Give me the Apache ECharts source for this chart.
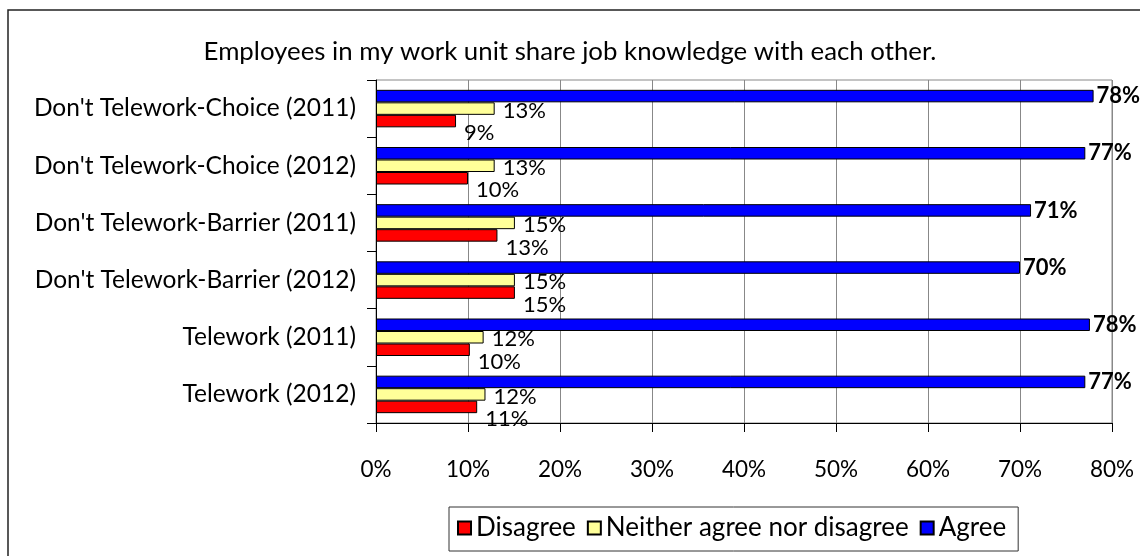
<!DOCTYPE html>
<html>
<head>
<meta charset="utf-8">
<script src="https://cdn.jsdelivr.net/npm/echarts@6/dist/echarts.min.js"></script>
<style>
  html, body { margin: 0; padding: 0; background: #fff; }
  #chart { width: 1140px; height: 556px; }
</style>
</head>
<body>
<div id="chart"></div>
<script>
// Survey item and groups, top to bottom
const chartTitle = 'Employees in my work unit share job knowledge with each other.';
const categories = [
  "Don't Telework-Choice (2011)",
  "Don't Telework-Choice (2012)",
  "Don't Telework-Barrier (2011)",
  "Don't Telework-Barrier (2012)",
  'Telework (2011)',
  'Telework (2012)'
];

// Percent of respondents per answer
const agree    = [78.0, 77.1, 71.2, 70.0, 77.6, 77.1];
const neither  = [12.9, 12.9, 15.1, 15.1, 11.7, 11.9];
const disagree = [8.7, 10.0, 13.2, 15.1, 10.2, 11.0];

const xTicks = [0, 10, 20, 30, 40, 50, 60, 70, 80];

const FONT = 'Lato, "Open Sans", sans-serif';
const pct = p => Math.round(p.value) + '%';

const chart = echarts.init(document.getElementById('chart'), null, { renderer: 'canvas' });

const barBase = {
  type: 'bar',
  barWidth: 12.5,
  barGap: '0%',
  animation: false
};

chart.setOption({
  backgroundColor: '#fff',
  textStyle: { fontFamily: FONT },
  title: {
    text: chartTitle,
    left: 'center',
    top: 34,
    textStyle: { fontFamily: FONT, fontSize: 25.8, fontWeight: 'normal', color: '#000' }
  },
  graphic: [{
    type: 'rect',
    shape: { x: 8, y: 10, width: 1200, height: 600 },
    style: { fill: null, stroke: '#222', lineWidth: 1.5 },
    silent: true
  }],
  legend: {
    data: ['Disagree', 'Neither agree nor disagree', 'Agree'],
    left: 449,
    top: 507,
    padding: [8, 12, 10, 8],
    itemGap: 11,
    itemWidth: 13,
    itemHeight: 13,
    icon: 'rect',
    borderColor: '#333',
    borderWidth: 1,
    textStyle: { fontFamily: FONT, fontSize: 26, color: '#000' }
  },
  grid: {
    left: 376, right: 28, top: 80, bottom: 133,
    show: true, borderColor: '#888', borderWidth: 1,
    containLabel: false
  },
  xAxis: {
    type: 'value',
    min: 0, max: 80, interval: 10,
    axisLine: { show: true, lineStyle: { color: '#000', width: 1 } },
    axisTick: { show: true, length: 9, lineStyle: { color: '#000' } },
    axisLabel: {
      margin: 35,
      fontFamily: FONT, fontSize: 22.5, color: '#000',
      formatter: v => xTicks.includes(v) ? v + '%' : ''
    },
    splitLine: { show: true, lineStyle: { color: '#888', width: 1 } }
  },
  yAxis: {
    type: 'category',
    data: categories,
    inverse: true,
    axisLine: { show: true, lineStyle: { color: '#000', width: 1 } },
    axisTick: { show: true, length: 9, inside: false, lineStyle: { color: '#000' } },
    axisLabel: { margin: 20, fontFamily: FONT, fontSize: 24.5, color: '#000' },
    splitLine: { show: false }
  },
  series: [
    Object.assign({}, barBase, {
      name: 'Agree',
      data: agree,
      itemStyle: { color: '#0000FF', borderColor: '#000', borderWidth: 1 },
      label: {
        show: true, position: 'right', distance: 3,
        formatter: pct,
        fontFamily: FONT, fontSize: 22, fontWeight: 'bold', color: '#000'
      }
    }),
    Object.assign({}, barBase, {
      name: 'Neither agree nor disagree',
      data: neither,
      itemStyle: { color: '#FFFF99', borderColor: '#000', borderWidth: 1 },
      label: {
        show: true, position: 'right', distance: 8, offset: [0, 2],
        formatter: pct,
        fontFamily: FONT, fontSize: 22, color: '#000'
      }
    }),
    Object.assign({}, barBase, {
      name: 'Disagree',
      data: disagree,
      itemStyle: { color: '#FF0000', borderColor: '#000', borderWidth: 1 },
      label: {
        show: true, position: 'right', distance: 8, offset: [0, 12],
        formatter: pct,
        fontFamily: FONT, fontSize: 22, color: '#000'
      }
    })
  ]
});
</script>
</body>
</html>
